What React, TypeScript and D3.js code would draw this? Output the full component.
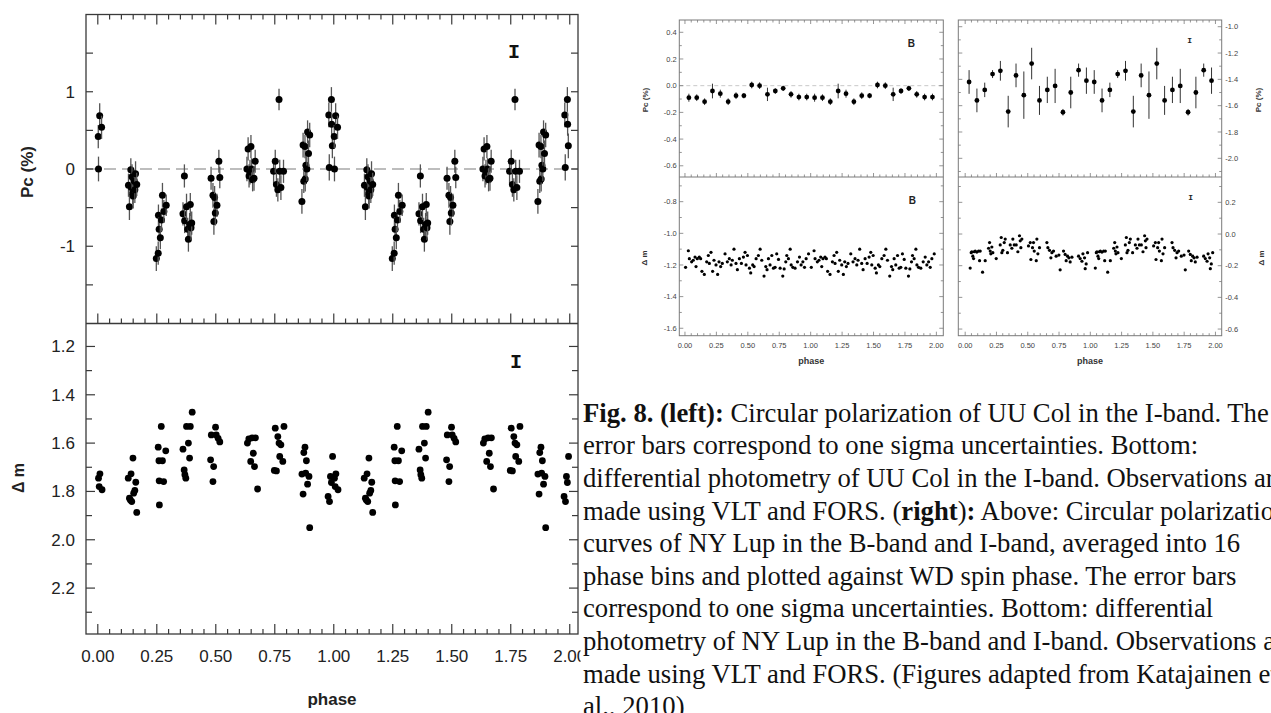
import React from "react";
import * as d3 from "d3";

// ---------- Left figure: UU Col, I band (phase 0-1, drawn twice: 0-1 and 1-2) ----------
const uuPcPhase = [
  0.002, 0.003, 0.008, 0.016,
  0.130, 0.134, 0.140, 0.142, 0.145, 0.148, 0.150, 0.155, 0.157, 0.160, 0.165,
  0.248, 0.256, 0.257, 0.260, 0.265, 0.270, 0.274, 0.280, 0.290,
  0.361, 0.367, 0.368, 0.376, 0.381, 0.384, 0.389, 0.392, 0.395, 0.398,
  0.480, 0.488, 0.492, 0.495, 0.498, 0.505, 0.513, 0.517,
  0.632, 0.637, 0.641, 0.645, 0.649, 0.652, 0.656, 0.662, 0.667,
  0.745, 0.752, 0.757, 0.763, 0.768, 0.771, 0.776, 0.787,
  0.865, 0.870, 0.873, 0.878, 0.879, 0.882, 0.886, 0.889, 0.893, 0.898,
  0.979, 0.981, 0.990, 0.991, 0.994,
];
const uuPcValue = [
  0.42, 0.0, 0.69, 0.54,
  -0.21, -0.49, -0.01, -0.24, -0.1, -0.31, -0.35, -0.16, -0.27, -0.06, -0.2,
  -1.16, -1.09, -0.6, -0.78, -0.89, -0.66, -0.34, -0.55, -0.47,
  -0.58, -0.09, -0.67, -0.49, -0.78, -0.91, -0.72, -0.46, -0.76, -0.7,
  -0.12, -0.34, -0.68, -0.37, -0.57, -0.47, 0.1, -0.11,
  0.0, 0.26, -0.09, -0.04, 0.29, 0.0, -0.14, -0.12, 0.1,
  -0.03, 0.1, -0.2, -0.27, 0.9, -0.03, -0.24, -0.03,
  -0.42, 0.31, -0.16, 0.29, -0.13, 0.05, 0.0, 0.48, 0.2, 0.44,
  0.7, 0.02, 0.9, 0.58, 0.3,
];
const uuPcError = [
  0.15, 0.16, 0.16, 0.15,
  0.15, 0.17, 0.15, 0.15, 0.16, 0.15, 0.16, 0.15, 0.17, 0.16, 0.15,
  0.16, 0.15, 0.14, 0.16, 0.15, 0.15, 0.16, 0.15, 0.14,
  0.15, 0.15, 0.16, 0.17, 0.15, 0.16, 0.15, 0.15, 0.16, 0.15,
  0.15, 0.16, 0.17, 0.15, 0.16, 0.15, 0.15, 0.14,
  0.16, 0.15, 0.15, 0.16, 0.15, 0.14, 0.15, 0.16, 0.15,
  0.16, 0.15, 0.16, 0.15, 0.14, 0.15, 0.16, 0.15,
  0.16, 0.16, 0.15, 0.15, 0.16, 0.15, 0.16, 0.15, 0.17, 0.16,
  0.16, 0.17, 0.16, 0.15, 0.16,
];
const uuDmPhase = [
  0.003, 0.006, 0.009, 0.018,
  0.129, 0.134, 0.138, 0.141, 0.144, 0.149, 0.152, 0.157, 0.161, 0.165,
  0.256, 0.259, 0.26, 0.261, 0.269, 0.274, 0.279, 0.288,
  0.361, 0.366, 0.369, 0.373, 0.376, 0.384, 0.389, 0.392, 0.4,
  0.478, 0.481, 0.488, 0.491, 0.499, 0.502, 0.51, 0.517,
  0.634, 0.64, 0.648, 0.654, 0.659, 0.664, 0.668, 0.677,
  0.748, 0.752, 0.757, 0.763, 0.768, 0.771, 0.776, 0.784, 0.789,
  0.865, 0.87, 0.873, 0.878, 0.881, 0.884, 0.889, 0.895, 0.898,
  0.976, 0.982, 0.986, 0.99, 0.995,
];
const uuDmValue = [
  1.745, 1.78, 1.727, 1.793,
  1.745, 1.828, 1.835, 1.727, 1.842, 1.662, 1.807, 1.796, 1.762, 1.887,
  1.617, 1.673, 1.756, 1.856, 1.531, 1.673, 1.759, 1.632,
  1.625, 1.711, 1.731, 1.745, 1.531, 1.6, 1.662, 1.531, 1.472,
  1.669, 1.566, 1.759, 1.697, 1.534, 1.566, 1.58, 1.595,
  1.6, 1.583, 1.676, 1.578, 1.642, 1.697, 1.578, 1.79,
  1.713, 1.538, 1.715, 1.573, 1.6, 1.655, 1.607, 1.676, 1.531,
  1.728, 1.811, 1.639, 1.617, 1.724, 1.673, 1.77, 1.738, 1.95,
  1.821, 1.842, 1.738, 1.763, 1.655,
];
const phaseTickLabels = ["0.00", "0.25", "0.50", "0.75", "1.00", "1.25", "1.50", "1.75", "2.00"];
const pcTickLabels = ["-1", "0", "1"];
const dmTickLabels = ["1.2", "1.4", "1.6", "1.8", "2.0", "2.2"];

// ---------- Right figure: NY Lup, 16 phase bins (drawn twice) ----------
const nyBinPhase = [
  0.03125, 0.09375, 0.15625, 0.21875, 0.28125, 0.34375, 0.40625, 0.46875,
  0.53125, 0.59375, 0.65625, 0.71875, 0.78125, 0.84375, 0.90625, 0.96875,
];
const nyPcB = [-0.09, -0.09, -0.12, -0.04, -0.06, -0.12, -0.075, -0.075, 0.005, 0.0, -0.065, -0.04, -0.02, -0.065, -0.085, -0.085];
const nyPcBErr = [0.03, 0.025, 0.025, 0.055, 0.03, 0.025, 0.025, 0.02, 0.025, 0.025, 0.05, 0.02, 0.02, 0.025, 0.025, 0.025];
const nyPcI = [-1.42, -1.56, -1.48, -1.36, -1.335, -1.645, -1.37, -1.52, -1.28, -1.56, -1.48, -1.45, -1.65, -1.5, -1.33, -1.41];
const nyPcIErr = [0.09, 0.09, 0.055, 0.03, 0.075, 0.12, 0.09, 0.18, 0.12, 0.11, 0.1, 0.13, 0.025, 0.12, 0.05, 0.1];

const nyDmBPhase = [
  0.005, 0.027, 0.035, 0.053, 0.066, 0.08, 0.088, 0.098, 0.114, 0.125, 0.135, 0.154, 0.173, 0.186, 0.194,
  0.207, 0.22, 0.231, 0.247, 0.26, 0.271, 0.284, 0.297, 0.319, 0.337, 0.353, 0.367, 0.377, 0.39, 0.406,
  0.417, 0.433, 0.449, 0.465, 0.478, 0.486, 0.497, 0.513, 0.523, 0.539, 0.55, 0.566, 0.584, 0.598, 0.611,
  0.629, 0.643, 0.653, 0.664, 0.677, 0.691, 0.704, 0.717, 0.73, 0.744, 0.757, 0.778, 0.789, 0.802, 0.81,
  0.823, 0.837, 0.845, 0.858, 0.876, 0.895, 0.911, 0.924, 0.938, 0.951, 0.964, 0.983,
];
const nyDmBValue = [
  -1.215, -1.11, -1.16, -1.18, -1.17, -1.15, -1.21, -1.16, -1.15, -1.16, -1.24, -1.26, -1.18, -1.14, -1.19,
  -1.12, -1.24, -1.17, -1.2, -1.26, -1.18, -1.21, -1.19, -1.13, -1.18, -1.16, -1.2, -1.17, -1.1, -1.19,
  -1.23, -1.16, -1.19, -1.15, -1.12, -1.2, -1.14, -1.22, -1.25, -1.2, -1.21, -1.16, -1.14, -1.1, -1.17,
  -1.27, -1.21, -1.23, -1.16, -1.2, -1.14, -1.22, -1.215, -1.13, -1.165, -1.22, -1.27, -1.225, -1.18, -1.14,
  -1.16, -1.1, -1.2, -1.215, -1.22, -1.18, -1.15, -1.2, -1.18, -1.215, -1.16, -1.13,
];
const nyDmIPhase = [
  0.04, 0.048, 0.053, 0.061, 0.067, 0.072, 0.08, 0.093, 0.107, 0.115, 0.12, 0.139, 0.16,
  0.187, 0.195, 0.2, 0.205, 0.213, 0.221, 0.248, 0.28, 0.288, 0.293, 0.301, 0.312, 0.32, 0.338,
  0.36, 0.373, 0.381, 0.392, 0.408, 0.421, 0.434, 0.44, 0.445, 0.453,
  0.506, 0.52, 0.525, 0.538, 0.546, 0.552, 0.568, 0.573, 0.581, 0.594,
  0.653, 0.661, 0.674, 0.685, 0.693, 0.706, 0.727, 0.749, 0.759,
  0.786, 0.799, 0.807, 0.818, 0.829, 0.839, 0.853,
  0.906, 0.919, 0.933, 0.941, 0.954, 0.959, 0.967, 0.978,
];
const nyDmIValue = [
  -0.215, -0.118, -0.112, -0.14, -0.155, -0.112, -0.108, -0.114, -0.108, -0.168, -0.108, -0.241, -0.168,
  -0.09, -0.054, -0.108, -0.125, -0.082, -0.118, -0.155, -0.069, -0.022, -0.118, -0.103, -0.054, -0.032, -0.118,
  -0.069, -0.09, -0.032, -0.069, -0.069, -0.112, -0.011, -0.043, -0.086, -0.032,
  -0.075, -0.054, -0.161, -0.086, -0.054, -0.108, -0.168, -0.032, -0.125, -0.086,
  -0.054, -0.086, -0.103, -0.15, -0.118, -0.108, -0.14, -0.133, -0.226,
  -0.108, -0.129, -0.168, -0.14, -0.15, -0.176, -0.146,
  -0.14, -0.155, -0.172, -0.125, -0.15, -0.219, -0.189, -0.118,
];

const SANS = "'Liberation Sans', Arial, Helvetica, sans-serif";
const SERIF = "'Liberation Serif', 'Times New Roman', serif";
const MONO = "'Liberation Mono', 'Courier New', monospace";

const CYCLES = [0, 1];
const phaseTicks = d3.range(0, 41).map((i) => i * 0.05);

function xTickMarks(
  scale: d3.ScaleLinear<number, number>,
  y: number,
  dir: number,
  majorLen: number,
  minorLen: number,
  stroke: string,
  sw: number,
  key: string
) {
  return phaseTicks.map((t, i) => {
    const x = scale(t);
    const len = i % 5 === 0 ? majorLen : minorLen;
    return <line key={key + i} x1={x} x2={x} y1={y} y2={y + dir * len} stroke={stroke} strokeWidth={sw} />;
  });
}

function yTickMarks(
  scale: d3.ScaleLinear<number, number>,
  values: number[],
  x0: number,
  x1: number,
  lenFn: (v: number, i: number) => number,
  stroke: string,
  sw: number,
  key: string
) {
  const out: React.ReactNode[] = [];
  values.forEach((v, i) => {
    const y = scale(v);
    const len = lenFn(v, i);
    out.push(<line key={key + "l" + i} x1={x0} x2={x0 + len} y1={y} y2={y} stroke={stroke} strokeWidth={sw} />);
    out.push(<line key={key + "r" + i} x1={x1} x2={x1 - len} y1={y} y2={y} stroke={stroke} strokeWidth={sw} />);
  });
  return out;
}

function LeftFigure() {
  const L = 86, R = 578, T = 14.5, M = 323.5, B = 634;
  const x = d3.scaleLinear().domain([-0.05, 2.035]).range([L, R]);
  const yPc = d3.scaleLinear().domain([-2, 2]).range([M, T]);
  const yDm = d3.scaleLinear().domain([1.105, 2.39]).range([M, B]);
  const stroke = "#3a3a3a";
  const pcTicks = d3.range(-3, 4).map((i) => i * 0.5);
  const dmTicks = d3.range(12, 24).map((i) => i / 10);

  return (
    <g>
      <line x1={L} x2={R} y1={yPc(0)} y2={yPc(0)} stroke="#a8a8a8" strokeWidth={1.6} strokeDasharray="12,6" />
      <rect x={L} y={T} width={R - L} height={B - T} fill="none" stroke={stroke} strokeWidth={1.3} />
      <line x1={L} x2={R} y1={M} y2={M} stroke={stroke} strokeWidth={1.3} />
      {xTickMarks(x, T, 1, 10, 5, stroke, 1.2, "tt")}
      {xTickMarks(x, M, -1, 10, 5, stroke, 1.2, "tm")}
      {xTickMarks(x, B, -1, 10, 5, stroke, 1.2, "tb")}
      {yTickMarks(yPc, pcTicks, L, R, () => 7, stroke, 1.2, "yp")}
      {yTickMarks(yDm, dmTicks, L, R, (v, i) => (i % 2 === 0 ? 9 : 6), stroke, 1.2, "yd")}

      {CYCLES.map((c) =>
        uuPcPhase.map((p, i) => {
          const px = x(p + c);
          return (
            <g key={"pc" + c + "_" + i}>
              <line x1={px} x2={px} y1={yPc(uuPcValue[i] - uuPcError[i])} y2={yPc(uuPcValue[i] + uuPcError[i])} stroke="#555" strokeWidth={1.3} />
              <circle cx={px} cy={yPc(uuPcValue[i])} r={3.5} fill="#000" />
            </g>
          );
        })
      )}
      {CYCLES.map((c) =>
        uuDmPhase.map((p, i) => (
          <circle key={"dm" + c + "_" + i} cx={x(p + c)} cy={yDm(uuDmValue[i])} r={3.4} fill="#000" />
        ))
      )}

      {pcTickLabels.map((t) => (
        <text key={"pl" + t} x={75} y={yPc(+t) + 6} textAnchor="end" fontFamily={SANS} fontSize={17} fill="#222">{t}</text>
      ))}
      {dmTickLabels.map((t) => (
        <text key={"dl" + t} x={75} y={yDm(+t) + 6} textAnchor="end" fontFamily={SANS} fontSize={17} fill="#222">{t}</text>
      ))}
      {phaseTickLabels.map((t) => (
        <text key={"xl" + t} x={x(+t)} y={662} textAnchor="middle" fontFamily={SANS} fontSize={17} fill="#222">{t}</text>
      ))}
      <text x={(L + R) / 2} y={705} textAnchor="middle" fontFamily={SANS} fontWeight="bold" fontSize={17} fill="#222">phase</text>
      <text transform={`translate(33,172) rotate(-90)`} textAnchor="middle" fontFamily={SANS} fontWeight="bold" fontSize={17} fill="#222">Pc (%)</text>
      <text transform={`translate(24,478) rotate(-90)`} textAnchor="middle" fontFamily={SANS} fontWeight="bold" fontSize={16} fill="#222">Δ m</text>
      <text x={514} y={58} textAnchor="middle" fontFamily={MONO} fontWeight="bold" fontSize={20} fill="#111">I</text>
      <text x={516} y={368} textAnchor="middle" fontFamily={MONO} fontWeight="bold" fontSize={20} fill="#111">I</text>
    </g>
  );
}

type PanelCfg = {
  L: number;
  R: number;
  xDomain: [number, number];
  pcDomain: [number, number];
  dmDomain: [number, number];
  pcTicks: number[];
  dmTicks: number[];
  pc: number[];
  pcErr: number[];
  dmPhase: number[];
  dm: number[];
  labelSide: "left" | "right";
  band: string;
  zeroLine: boolean;
};

function RightPanel({ cfg }: { cfg: PanelCfg }) {
  const T = 20, M = 177, B = 335.7;
  const { L, R } = cfg;
  const x = d3.scaleLinear().domain(cfg.xDomain).range([L, R]);
  const yPc = d3.scaleLinear().domain(cfg.pcDomain).range([M, T]);
  const yDm = d3.scaleLinear().domain(cfg.dmDomain).range([M, B]);
  const stroke = "#7a7a7a";
  const fmt = (v: number) => v.toFixed(1);
  const isLabel = (v: number) => Math.abs(Math.round(v * 10)) % 2 === 0;
  const lx = cfg.labelSide === "left" ? L - 2.5 : R + 3.5;
  const anchor = cfg.labelSide === "left" ? "end" : "start";
  const titleX = cfg.labelSide === "left" ? 648 : 1261;
  const bandFont = cfg.band === "B" ? SANS : MONO;

  return (
    <g>
      {cfg.zeroLine && (
        <line x1={L} x2={R} y1={yPc(0)} y2={yPc(0)} stroke="#c8c8c8" strokeWidth={1} strokeDasharray="4,3" />
      )}
      <rect x={L} y={T} width={R - L} height={B - T} fill="none" stroke={stroke} strokeWidth={1} />
      <line x1={L} x2={R} y1={M} y2={M} stroke={stroke} strokeWidth={1} />
      {xTickMarks(x, T, 1, 4, 2.5, stroke, 0.8, "t")}
      {xTickMarks(x, M, -1, 4, 2.5, stroke, 0.8, "m")}
      {xTickMarks(x, B, -1, 4, 2.5, stroke, 0.8, "b")}
      {yTickMarks(yPc, cfg.pcTicks, L, R, (v) => (isLabel(v) ? 4 : 2.5), stroke, 0.8, "yp")}
      {yTickMarks(yDm, cfg.dmTicks, L, R, (v) => (isLabel(v) ? 4 : 2.5), stroke, 0.8, "yd")}

      {CYCLES.map((c) =>
        nyBinPhase.map((p, i) => {
          const px = x(p + c);
          return (
            <g key={"p" + c + "_" + i}>
              <line x1={px} x2={px} y1={yPc(cfg.pc[i] - cfg.pcErr[i])} y2={yPc(cfg.pc[i] + cfg.pcErr[i])} stroke="#333" strokeWidth={1} />
              <circle cx={px} cy={yPc(cfg.pc[i])} r={2.4} fill="#000" />
            </g>
          );
        })
      )}
      {CYCLES.map((c) =>
        cfg.dmPhase.map((p, i) => (
          <circle key={"d" + c + "_" + i} cx={x(p + c)} cy={yDm(cfg.dm[i])} r={1.6} fill="#000" />
        ))
      )}

      {cfg.pcTicks.filter(isLabel).map((v) => (
        <text key={"pl" + v} x={lx} y={yPc(v) + 2.7} textAnchor={anchor} fontFamily={SANS} fontSize={7.5} fill="#444">{fmt(v)}</text>
      ))}
      {cfg.dmTicks.filter(isLabel).map((v) => (
        <text key={"dl" + v} x={lx} y={yDm(v) + 2.7} textAnchor={anchor} fontFamily={SANS} fontSize={7.5} fill="#444">{fmt(v)}</text>
      ))}
      {phaseTickLabels.map((t) => (
        <text key={"xl" + t} x={x(+t)} y={348} textAnchor="middle" fontFamily={SANS} fontSize={7.5} fill="#444">{t}</text>
      ))}
      <text x={(L + R) / 2} y={364} textAnchor="middle" fontFamily={SANS} fontWeight="bold" fontSize={9} fill="#333">phase</text>
      <text transform={`translate(${titleX},100) rotate(-90)`} textAnchor="middle" fontFamily={SANS} fontWeight="bold" fontSize={8} fill="#333">Pc (%)</text>
      <text transform={`translate(${titleX + (cfg.labelSide === "left" ? -1 : 3)},258) rotate(-90)`} textAnchor="middle" fontFamily={SANS} fontWeight="bold" fontSize={8} fill="#333">Δ m</text>
      <text x={R - 32} y={cfg.band === "B" ? 47 : 43} textAnchor="middle" fontFamily={bandFont} fontWeight="bold" fontSize={cfg.band === "B" ? 10 : 8} fill="#222">{cfg.band}</text>
      <text x={R - 31} y={cfg.band === "B" ? 203.5 : 200} textAnchor="middle" fontFamily={bandFont} fontWeight="bold" fontSize={cfg.band === "B" ? 10 : 8} fill="#222">{cfg.band}</text>
    </g>
  );
}

const captionLines: { text: string; bold?: boolean }[][] = [
  [{ text: "Fig. 8. (left):", bold: true }, { text: " Circular polarization of UU Col in the I-band. The" }],
  [{ text: "error bars correspond to one sigma uncertainties. Bottom:" }],
  [{ text: "differential photometry of UU Col in the I-band. Observations are" }],
  [{ text: "made using VLT and FORS. (" }, { text: "right", bold: true }, { text: ")" }, { text: ":", bold: true }, { text: " Above: Circular polarization" }],
  [{ text: "curves of NY Lup in the B-band and I-band, averaged into 16" }],
  [{ text: "phase bins and plotted against WD spin phase. The error bars" }],
  [{ text: "correspond to one sigma uncertainties. Bottom: differential" }],
  [{ text: "photometry of NY Lup in the B-band and I-band. Observations are" }],
  [{ text: "made using VLT and FORS. (Figures adapted from Katajainen et" }],
  [{ text: "al., 2010)" }],
];

export default function App() {
  const W = 1271, H = 713;
  const bCfg: PanelCfg = {
    L: 679.3, R: 943.3,
    xDomain: [-0.045, 2.055],
    pcDomain: [-0.684, 0.492],
    dmDomain: [-0.644, -1.647],
    pcTicks: d3.range(-6, 5).map((i) => i / 10),
    dmTicks: d3.range(-16, -6).map((i) => i / 10),
    pc: nyPcB, pcErr: nyPcBErr,
    dmPhase: nyDmBPhase, dm: nyDmBValue,
    labelSide: "left", band: "B", zeroLine: true,
  };
  const iCfg: PanelCfg = {
    L: 958.3, R: 1221.7,
    xDomain: [-0.055, 2.05],
    pcDomain: [-2.142, -0.949],
    dmDomain: [0.36, -0.642],
    pcTicks: d3.range(-21, -9).map((i) => i / 10),
    dmTicks: d3.range(-6, 4).map((i) => i / 10),
    pc: nyPcI, pcErr: nyPcIErr,
    dmPhase: nyDmIPhase, dm: nyDmIValue,
    labelSide: "right", band: "I", zeroLine: false,
  };
  return (
    <svg
      width={W}
      height={H}
      viewBox={`0 0 ${W} ${H}`}
      style={{ position: "absolute", left: 0, top: 0, background: "#fff" }}
    >
      <rect x={0} y={0} width={W} height={H} fill="#fff" />
      <LeftFigure />
      <RightPanel cfg={bCfg} />
      <RightPanel cfg={iCfg} />
      <rect x={580.5} y={392} width={W - 580.5} height={H - 392} fill="#fff" />
      {captionLines.map((line, li) => (
        <text key={"cap" + li} x={583} y={421.7 + li * 32.6} fontFamily={SERIF} fontSize={26.7} fill="#111">
          {line.map((seg, si) => (
            <tspan key={si} fontWeight={seg.bold ? "bold" : "normal"}>{seg.text}</tspan>
          ))}
        </text>
      ))}
    </svg>
  );
}
